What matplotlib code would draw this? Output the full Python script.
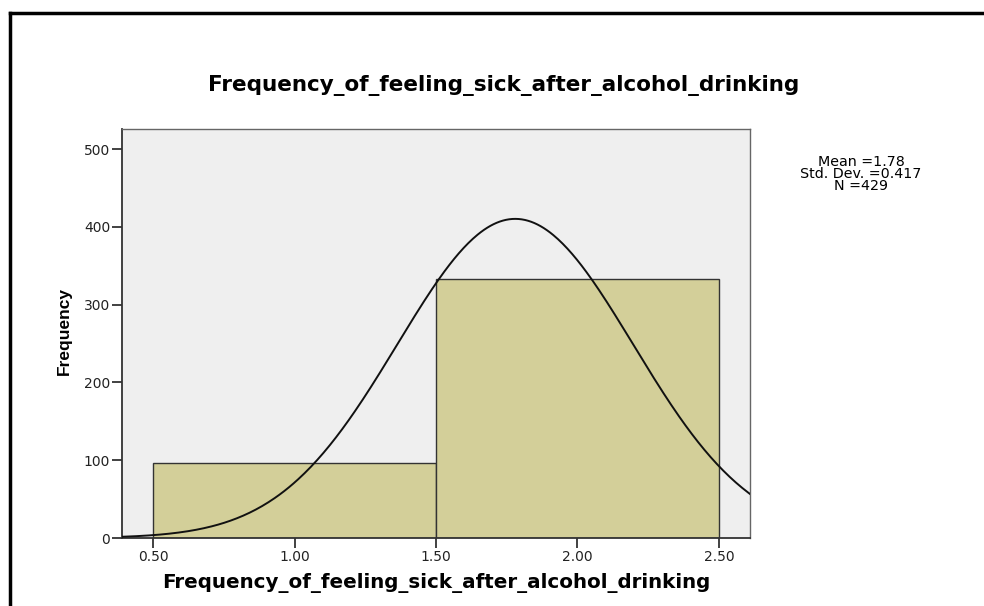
import numpy as np
import matplotlib
matplotlib.use("Agg")
import matplotlib.pyplot as plt
from matplotlib.lines import Line2D

plt.rcParams['font.family'] = ['DejaVu Sans']

# Data
bin_left = [0.5, 1.5]
bin_counts = [96, 333]
bin_width = 1.0
mean_val = 1.78
std_val = 0.417
n_val = 429
xticks = [0.5, 1.0, 1.5, 2.0, 2.5]
xtick_labels = ["0.50", "1.00", "1.50", "2.00", "2.50"]
yticks = [0, 100, 200, 300, 400, 500]
title = "Frequency_of_feeling_sick_after_alcohol_drinking"

fig = plt.figure(figsize=(9.84, 6.06), dpi=100)
W, H = 984, 606
ax = fig.add_axes([122 / W, 1 - 538 / H, (750 - 122) / W, (538 - 129) / H])
ax.set_facecolor('#EFEFEF')

ax.bar(bin_left, bin_counts, width=bin_width, align='edge',
       color='#D3CF99', edgecolor='#333333', linewidth=1.0, zorder=2)

xs = np.linspace(0.39, 2.61, 400)
ys = n_val * bin_width / (std_val * np.sqrt(2 * np.pi)) * np.exp(-0.5 * ((xs - mean_val) / std_val) ** 2)
ax.plot(xs, ys, color='#111111', linewidth=1.4, zorder=3)

ax.set_xlim(0.39, 2.61)
ax.set_ylim(0, 526)
ax.set_xticks(xticks)
ax.set_xticklabels(xtick_labels)
ax.set_yticks(yticks)
for s in ax.spines.values():
    s.set_color('#666666')
    s.set_linewidth(1.0)
ax.spines['left'].set_color('#333333')
ax.spines['left'].set_linewidth(1.3)
ax.spines['bottom'].set_color('#333333')
ax.spines['bottom'].set_linewidth(1.3)
ax.tick_params(axis='both', length=7, width=1.3, color='#333333',
               labelsize=10, labelcolor='#222222', pad=1.5)

ax.set_xlabel("Frequency_of_feeling_sick_after_alcohol_drinking",
              fontsize=14.3, fontweight='bold')
ax.xaxis.set_label_coords(0.5, 1 - (583 - 129) / (538 - 129), transform=ax.transAxes)
ax.xaxis.label.set_va('center')
ax.set_ylabel("Frequency", fontsize=12.5, fontweight='bold',
              family=['Liberation Sans', 'DejaVu Sans'])
ax.yaxis.set_label_coords((64 - 122) / (750 - 122), (538 - 331) / (538 - 129))
ax.yaxis.label.set_va('center')

fig.text(504 / W, 1 - 85 / H, title, fontsize=15.5, fontweight='bold',
         ha='center', va='center')

fig.text(861 / W, 1 - 174 / H,
         "Mean =%.2f\nStd. Dev. =%.3f\nN =%d" % (mean_val, std_val, n_val),
         fontsize=10.3, ha='center', va='center', linespacing=0.8)

# frame lines (top and left)
fig.add_artist(Line2D([10 / W, 1.0], [1 - 13 / H, 1 - 13 / H],
                      transform=fig.transFigure, color='black', linewidth=2.5))
fig.add_artist(Line2D([10 / W, 10 / W], [0, 1 - 13 / H],
                      transform=fig.transFigure, color='black', linewidth=2.5))

fig.savefig("out.png", dpi=100, facecolor='white')
